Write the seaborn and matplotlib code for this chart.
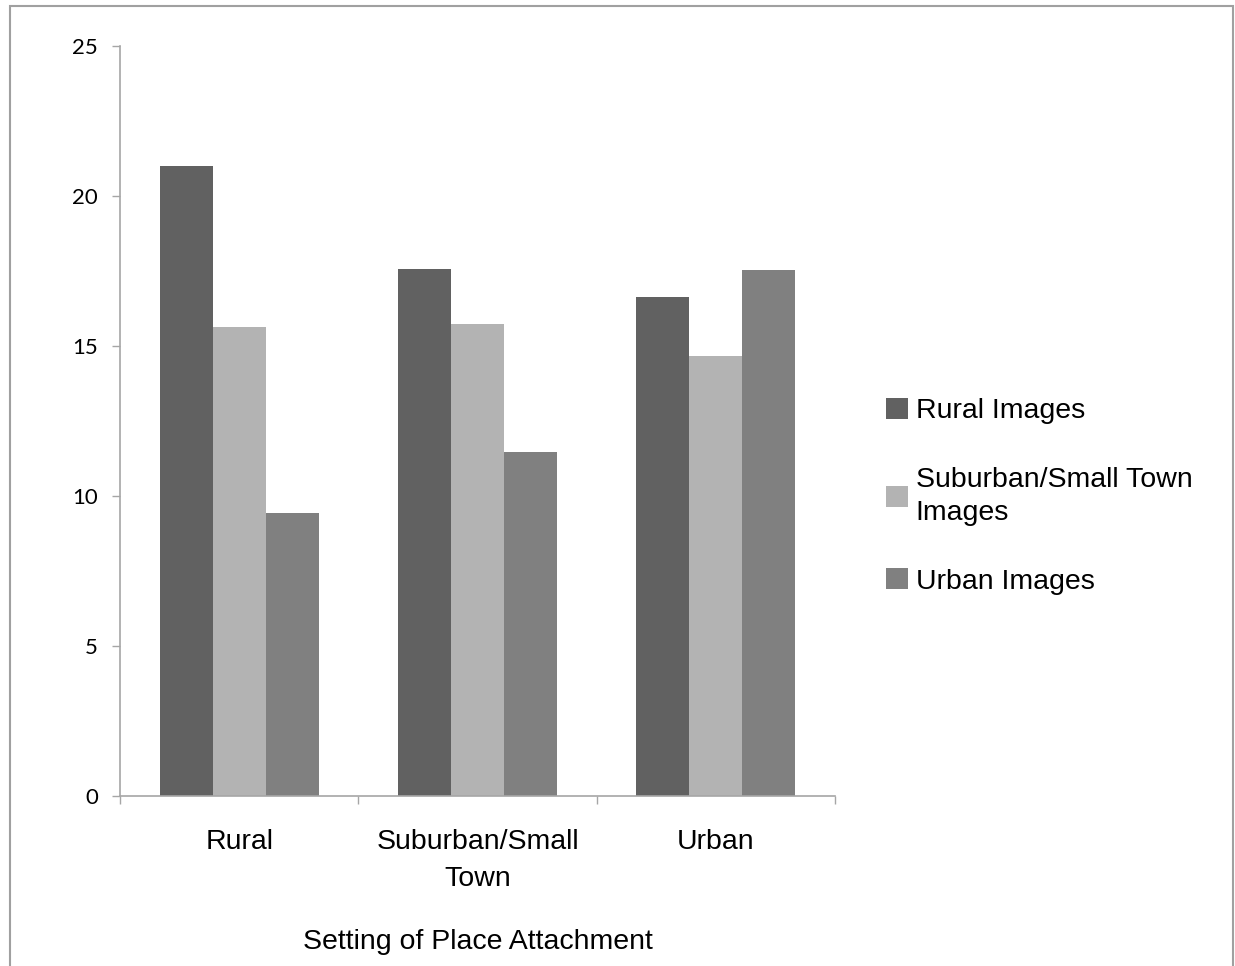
import pandas as pd
import matplotlib
matplotlib.use("Agg")
import matplotlib.pyplot as plt
import seaborn as sns
from matplotlib.patches import Rectangle

# data
settings = ['Rural', 'Suburban/Small\nTown', 'Urban']
series = ['Rural Images', 'Suburban/Small Town\nImages', 'Urban Images']
rural_images = [21.0, 17.57, 16.63]
suburban_images = [15.62, 15.73, 14.67]
urban_images = [9.42, 11.47, 17.53]
bar_colors = ['#616161', '#b3b3b3', '#808080']
y_ticks = [0, 5, 10, 15, 20, 25]

sns.set_theme(style="white")
plt.rcParams['font.family'] = ['Liberation Sans', 'DejaVu Sans']
plt.rcParams['text.color'] = 'black'
plt.rcParams['axes.labelcolor'] = 'black'
plt.rcParams['xtick.labelcolor'] = 'black'
plt.rcParams['ytick.labelcolor'] = 'black'

df = pd.DataFrame({
    'setting': settings * 3,
    'series': [s for s in series for _ in settings],
    'value': rural_images + suburban_images + urban_images,
})

fig = plt.figure(figsize=(12.35, 9.66), dpi=100)
ax = fig.add_axes([120 / 1235, 1 - 796 / 966, 715 / 1235, 750 / 966])

sns.barplot(data=df, x='setting', y='value', hue='series', order=settings,
            hue_order=series, palette=bar_colors, width=0.668, gap=0,
            saturation=1, linewidth=0, ax=ax)

grey = '#a6a6a6'
ax.set_xlim(-0.5, 2.5)
ax.set_ylim(0, 25)
ax.set_yticks(y_ticks)
ax.set_yticklabels([str(t) for t in y_ticks], fontfamily='Lato', fontsize=16)
ax.tick_params(axis='y', direction='out', length=6, width=1, color=grey,
               pad=10, left=True)

ax.set_xticks([0, 1, 2])
ax.set_xticklabels(settings, fontsize=20.5, linespacing=1.55)
ax.set_xticks([-0.5, 0.5, 1.5, 2.5], minor=True)
ax.tick_params(axis='x', which='major', length=0, pad=23.5)
ax.tick_params(axis='x', which='minor', direction='out', length=6, width=1,
               color=grey, bottom=True)

ax.set_xlabel('Setting of Place Attachment', fontsize=20.5, labelpad=27)
ax.set_ylabel('')

for side in ['top', 'right']:
    ax.spines[side].set_visible(False)
for side in ['left', 'bottom']:
    ax.spines[side].set_color(grey)
    ax.spines[side].set_linewidth(1.2)

leg = ax.legend(loc='upper left', bbox_to_anchor=(886 / 1235, 1 - 398 / 966),
                bbox_transform=fig.transFigure, frameon=False, fontsize=20.5,
                handlelength=0.76, handleheight=0.76, handletextpad=0.28,
                labelspacing=1.5, borderpad=0, borderaxespad=0)
for t in leg.get_texts():
    t.set_linespacing(1.32)

# thin grey frame round the whole picture
fig.patches.append(Rectangle((10 / 1235, -0.01), 1223 / 1235, 1 - 6 / 966 + 0.01,
                             transform=fig.transFigure, fill=False,
                             edgecolor='#a0a0a0', linewidth=1.5))

fig.savefig('out.png', dpi=100, facecolor='white')
